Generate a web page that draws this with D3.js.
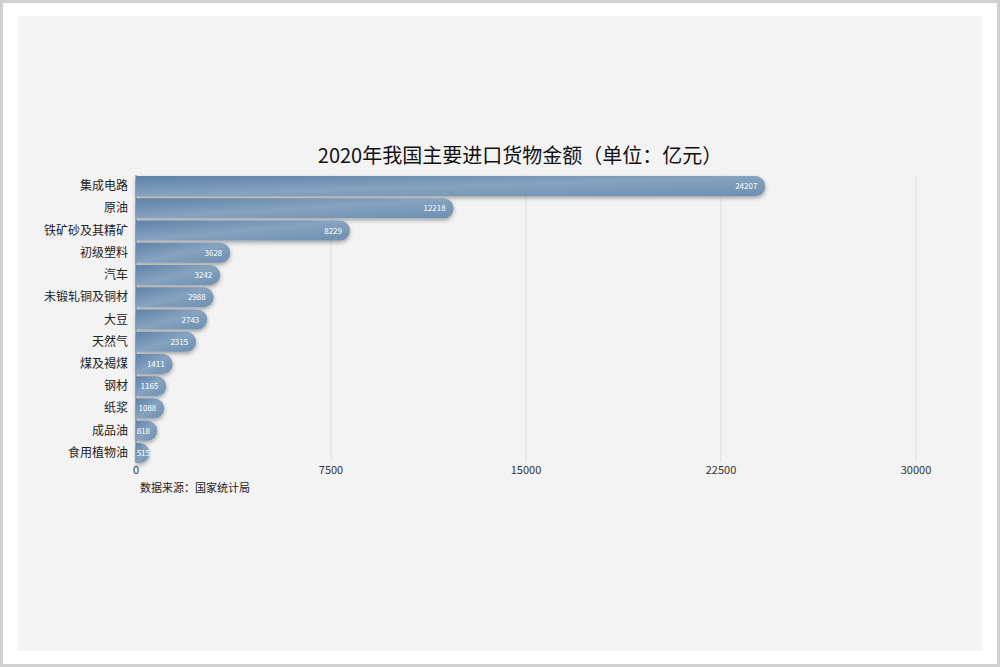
<!DOCTYPE html><html><head><meta charset="utf-8"><script src="https://cdn.jsdelivr.net/npm/d3@7"></script>
<style>body{margin:0;background:#fff;font-family:"Noto Sans CJK SC","Noto Sans",sans-serif}</style></head><body>
<svg id="c" width="1000" height="667"></svg>
<script>
const categories=["集成电路","原油","铁矿砂及其精矿","初级塑料","汽车","未锻轧铜及铜材","大豆","天然气","煤及褐煤","钢材","纸浆","成品油","食用植物油"];
const values=[24207,12218,8229,3628,3242,2988,2743,2315,1411,1165,1088,818,515];
const ticks=[0,7500,15000,22500,30000];
const svg=d3.select("#c");
svg.append("rect").attr("x",1.5).attr("y",1.5).attr("width",997).attr("height",664).attr("fill","#fff").attr("stroke","#d0d0d0").attr("stroke-width",3);
svg.append("rect").attr("x",18).attr("y",16).attr("width",964).attr("height",635).attr("fill","#f3f3f3");
const defs=svg.append("defs");
const g1=defs.append("linearGradient").attr("id","bg").attr("x1",0).attr("x2",1).attr("y1",0).attr("y2",1);
g1.append("stop").attr("offset",0).attr("stop-color","#5f82a8");
g1.append("stop").attr("offset",0.5).attr("stop-color","#86a3bf");
g1.append("stop").attr("offset",1).attr("stop-color","#6d8fb0");
const f=defs.append("filter").attr("id","sh").attr("x","-10%").attr("y","-50%").attr("width","120%").attr("height","200%");
f.append("feDropShadow").attr("dx",0).attr("dy",2).attr("stdDeviation",2).attr("flood-color","#000").attr("flood-opacity",0.35);
const x=d3.scaleLinear().domain([0,30000]).range([136,916]);
const y=d3.scaleBand().domain(categories).range([175,464]).paddingInner(0.1).paddingOuter(0.05);
svg.append("g").selectAll("line").data(ticks).join("line").attr("x1",d=>x(d)).attr("x2",d=>x(d)).attr("y1",175).attr("y2",462).attr("stroke","#ddd");
svg.append("line").attr("x1",136).attr("x2",136).attr("y1",175).attr("y2",462).attr("stroke","#888");
svg.append("g").selectAll("text").data(ticks).join("text").attr("x",d=>x(d)).attr("y",474).attr("text-anchor","middle").attr("font-size",11).attr("fill","#333").text(d=>d);
svg.append("g").selectAll("text").data(categories).join("text").attr("x",128).attr("y",d=>y(d)+y.bandwidth()/2+4).attr("text-anchor","end").attr("font-size",12).attr("fill","#222").text(d=>d);
const bh=y.bandwidth();
svg.append("g").selectAll("path").data(values).join("path").attr("filter","url(#sh)").attr("fill","url(#bg)")
 .attr("d",(d,i)=>{const x0=x(0),x1=x(d),y0=y(categories[i]),r=bh/2;return `M${x0},${y0}H${x1-r}A${r},${r} 0 0 1 ${x1-r},${y0+bh}H${x0}Z`;});
svg.append("g").selectAll("text").data(values).join("text").attr("x",d=>Math.max(x(d)-8,x(0)+14)).attr("y",(d,i)=>y(categories[i])+bh/2+3).attr("text-anchor","end").attr("font-size",8).attr("fill","#fff").text(d=>d);
svg.append("text").attr("x",520).attr("y",163).attr("text-anchor","middle").attr("font-size",20).attr("fill","#111").text("2020年我国主要进口货物金额（单位：亿元）");
svg.append("text").attr("x",140).attr("y",492).attr("font-size",11).attr("fill","#222").text("数据来源：国家统计局");
</script></body></html>
